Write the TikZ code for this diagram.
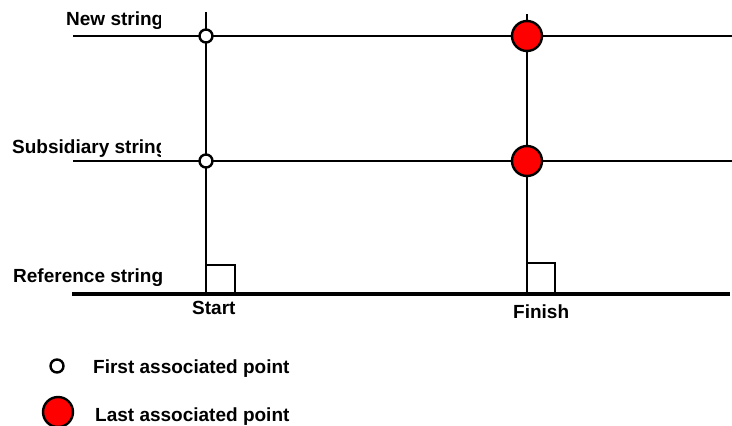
\documentclass[tikz,border=0pt]{standalone}
\usepackage{fontspec}
\setmainfont{Liberation Sans}
\begin{document}
\begin{tikzpicture}[x=1pt,y=-1pt,
  line/.style={line width=2.4pt},
  refline/.style={line width=4.5pt},
  lbl/.style={anchor=base west,inner sep=0pt,font=\fontsize{19}{22}\selectfont\bfseries},
  firstpt/.style={circle,draw,line width=2.4pt,fill=white,minimum size=13pt,inner sep=0pt},
  lastpt/.style={circle,draw,line width=2.4pt,fill=red,minimum size=30pt,inner sep=0pt}]
\useasboundingbox (0,0) rectangle (732,426);
% coordinates
\coordinate (nsL) at (73,36);
\coordinate (nsR) at (732,36);
\coordinate (ssL) at (73,161);
\coordinate (ssR) at (732,161);
\coordinate (rsL) at (72,294);
\coordinate (rsR) at (730,294);
\coordinate (v1T) at (206,12);
\coordinate (v1B) at (206,294);
\coordinate (v2T) at (527,14);
\coordinate (v2B) at (527,294);
% lines
\draw[line] (nsL) -- (nsR);
\draw[line] (ssL) -- (ssR);
\draw[line] (v1T) -- (v1B);
\draw[line] (v2T) -- (v2B);
\draw[line] (206,265) -- (235,265) -- (235,294);
\draw[line] (527,263) -- (555,263) -- (555,294);
\draw[refline] (rsL) -- (rsR);
% points
\node[firstpt] (f1) at (206,36) {};
\node[firstpt] (f2) at (206,161) {};
\node[lastpt] (l1) at (527,36) {};
\node[lastpt] (l2) at (527,161) {};
% labels
\begin{scope}
\clip (0,0) rectangle (160,200);
\node[lbl] (tnew) at (66,25) {New string};
\node[lbl] (tsub) at (12,153) {Subsidiary string};
\end{scope}
\node[lbl] (tref) at (13,282) {Reference string};
\node[lbl] (tstart) at (192,314) {Start};
\node[lbl] (tfin) at (513,318) {Finish};
% legend
\node[firstpt] (lg1) at (57,366) {};
\node[lbl] (tfirst) at (93,373) {First associated point};
\node[lastpt] (lg2) at (58,412) {};
\node[lbl] (tlast) at (95,421) {Last associated point};
\end{tikzpicture}
\end{document}
